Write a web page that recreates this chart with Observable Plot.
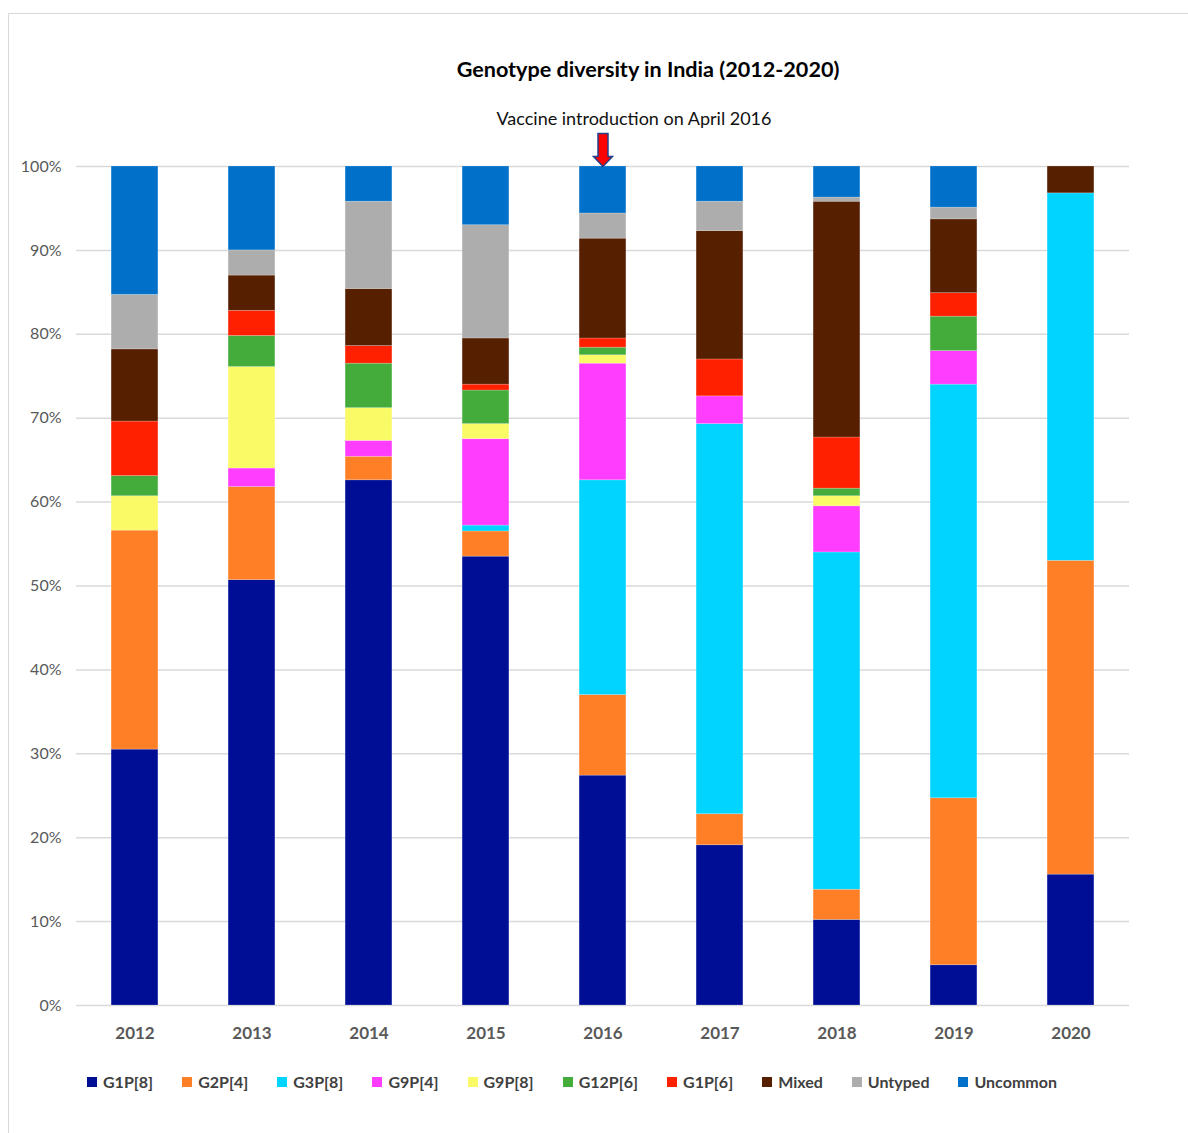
<!DOCTYPE html>
<html>
<head>
<meta charset="utf-8">
<script src="https://cdn.jsdelivr.net/npm/d3@7"></script>
<script src="https://cdn.jsdelivr.net/npm/@observablehq/plot@0.6"></script>
<style>
  html, body { margin: 0; padding: 0; background: #fff; }
  body { font-family: Lato, "Open Sans", sans-serif; }
  #page { position: relative; width: 1188px; height: 1133px; overflow: hidden; background: #fff; }
  #frameTop { position: absolute; left: 8px; top: 13px; width: 1180px; height: 0; border-top: 1.5px solid #d9d9d9; }
  #frameLeft { position: absolute; left: 8px; top: 13px; width: 0; height: 1120px; border-left: 1.5px solid #d9d9d9; }
  #title { position: absolute; left: 348px; width: 600px; top: 56px; text-align: center;
           font-size: 21.6px; line-height: 26px; font-weight: 700; color: #000; white-space: nowrap; }
  #note { position: absolute; left: 334px; width: 600px; top: 107px; text-align: center;
          font-size: 18px; line-height: 22px; font-weight: 400; color: #111; white-space: nowrap; }
  #chart { position: absolute; left: 0; top: 129px; }
  #legend { position: absolute; left: 87px; top: 1071px; display: flex; align-items: center; gap: 29px;
            font-size: 16px; line-height: 22px; font-weight: 700; color: #404040; white-space: nowrap; }
  .item { display: flex; align-items: center; gap: 6px; }
  .sw { width: 10px; height: 10px; display: inline-block; }
</style>
</head>
<body>
<div id="page">
  <div id="frameTop"></div>
  <div id="frameLeft"></div>
  <div id="title">Genotype diversity in India (2012-2020)</div>
  <div id="note">Vaccine introduction on April 2016</div>
  <div id="chart"></div>
  <div id="legend"></div>
</div>
<script>
// ---- data (percent of samples per year) ----
const years = ["2012", "2013", "2014", "2015", "2016", "2017", "2018", "2019", "2020"];
const genotypes = ["G1P[8]", "G2P[4]", "G3P[8]", "G9P[4]", "G9P[8]", "G12P[6]", "G1P[6]", "Mixed", "Untyped", "Uncommon"];
const colors = ["#000E96", "#FF7F27", "#00D4FF", "#FF3DFF", "#FAFA66", "#43AC3A", "#FF2000", "#561F00", "#ADADAD", "#0070C8"];

const G1P8     = [30.5, 50.7, 62.6, 53.5, 27.4, 19.1, 10.2,  4.8, 15.6];
const G2P4     = [26.1, 11.1,  2.8,  3.0,  9.6,  3.7,  3.6, 19.9, 37.4];
const G3P8     = [ 0.0,  0.0,  0.0,  0.7, 25.6, 46.5, 40.2, 49.3, 43.8];
const G9P4     = [ 0.0,  2.2,  1.9, 10.3, 13.9,  3.3,  5.5,  4.0,  0.0];
const G9P8     = [ 4.1, 12.1,  3.9,  1.8,  1.0,  0.0,  1.2,  0.0,  0.0];
const G12P6    = [ 2.4,  3.7,  5.3,  4.0,  0.9,  0.0,  0.9,  4.1,  0.0];
const G1P6     = [ 6.5,  3.0,  2.1,  0.7,  1.1,  4.4,  6.1,  2.8,  0.0];
const Mixed    = [ 8.6,  4.2,  6.8,  5.5, 11.9, 15.3, 28.1,  8.8,  3.2];
const Untyped  = [ 6.5,  3.0, 10.4, 13.5,  3.0,  3.5,  0.5,  1.4,  0.0];
const Uncommon = [15.3, 10.0,  4.2,  7.0,  5.6,  4.2,  3.7,  4.9,  0.0];

const yTicks = [0, 10, 20, 30, 40, 50, 60, 70, 80, 90, 100];
const vaccineYear = "2016";

const series = [G1P8, G2P4, G3P8, G9P4, G9P8, G12P6, G1P6, Mixed, Untyped, Uncommon];
const data = genotypes.flatMap((g, i) =>
  years.map((yr, j) => ({year: yr, genotype: g, value: series[i][j]}))
).filter(d => d.value > 0);

// block arrow pointing down, tip at the symbol origin
const downArrow = {
  draw(ctx) {
    ctx.moveTo(0, 0);
    ctx.lineTo(-9.5, -10);
    ctx.lineTo(-5, -10);
    ctx.lineTo(-5, -33);
    ctx.lineTo(5, -33);
    ctx.lineTo(5, -10);
    ctx.lineTo(9.5, -10);
    ctx.closePath();
  }
};

const chart = Plot.plot({
  width: 1188,
  height: 926,
  marginTop: 37,
  marginBottom: 50,
  marginLeft: 76,
  marginRight: 59,
  style: {fontFamily: "Lato, 'Open Sans', sans-serif", background: "transparent", overflow: "visible"},
  x: {domain: years, paddingInner: 0.6, paddingOuter: 0.3, round: false, label: null},
  y: {domain: [0, 100], label: null},
  color: {domain: genotypes, range: colors},
  marks: [
    Plot.gridY(yTicks, {stroke: "#d9d9d9", strokeOpacity: 1, strokeWidth: 1.5}),
    Plot.barY(data, {x: "year", y: "value", fill: "genotype", stroke: "#ffffff", strokeOpacity: 0.25, strokeWidth: 0.8}),
    Plot.axisY(yTicks, {tickSize: 0, tickPadding: 15, tickFormat: d => d + "%", fontSize: 16, fill: "#595959"}),
    Plot.axisX({tickSize: 0, tickPadding: 21, fontSize: 17, fontWeight: 700, fill: "#595959"}),
    Plot.dot([vaccineYear], {x: d => d, y: () => 100, symbol: downArrow, r: 10, fill: "#FF0000", stroke: "#22408C", strokeWidth: 1.5})
  ]
});
document.getElementById("chart").appendChild(chart);

// legend
const legend = document.getElementById("legend");
genotypes.forEach((g, i) => {
  const item = document.createElement("span");
  item.className = "item";
  const sw = document.createElement("span");
  sw.className = "sw";
  sw.style.background = colors[i];
  const t = document.createElement("span");
  t.textContent = g;
  item.appendChild(sw);
  item.appendChild(t);
  legend.appendChild(item);
});
</script>
</body>
</html>
